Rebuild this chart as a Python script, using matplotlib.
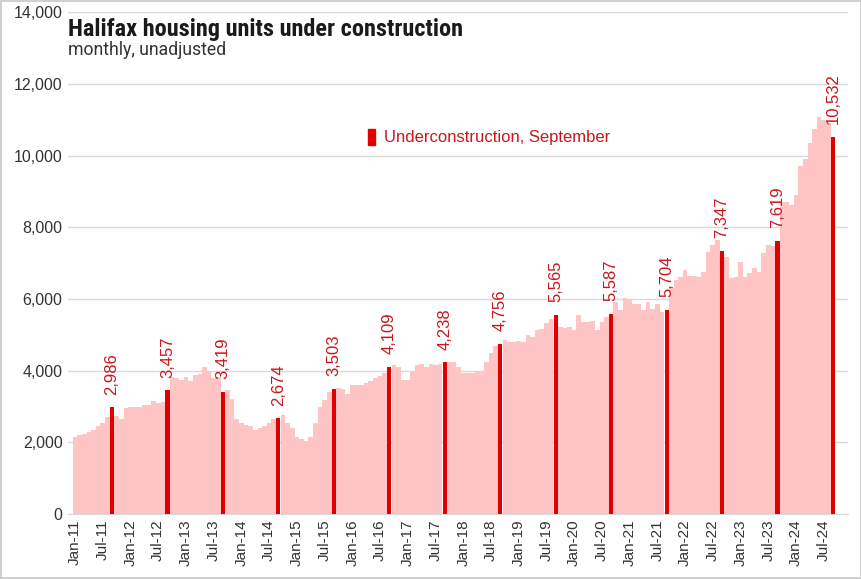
import pandas as pd
import matplotlib.pyplot as plt
from matplotlib.patches import Patch

# monthly units under construction, Jan-2011 .. Sep-2024
y2011 = [2150, 2200, 2230, 2280, 2350, 2450, 2550, 2700, 2986, 2750, 2650, 2950]
y2012 = [3000, 3000, 3000, 3050, 3050, 3150, 3100, 3120, 3457, 3820, 3800, 3740]
y2013 = [3820, 3700, 3880, 3910, 4100, 3960, 3810, 3820, 3419, 3460, 3200, 2650]
y2014 = [2550, 2500, 2450, 2350, 2400, 2450, 2550, 2650, 2674, 2760, 2550, 2400]
y2015 = [2150, 2100, 2050, 2150, 2550, 3000, 3180, 3400, 3503, 3510, 3480, 3350]
y2016 = [3600, 3600, 3600, 3650, 3720, 3800, 3850, 3950, 4109, 4150, 4100, 3750]
y2017 = [3750, 4000, 4150, 4180, 4100, 4200, 4150, 4200, 4238, 4250, 4250, 4100]
y2018 = [3950, 3950, 3950, 4000, 4000, 4250, 4500, 4700, 4756, 4850, 4800, 4800]
y2019 = [4820, 4800, 5000, 4950, 5130, 5150, 5330, 5450, 5565, 5220, 5180, 5220]
y2020 = [5130, 5550, 5360, 5360, 5390, 5130, 5360, 5500, 5587, 5910, 5690, 6020]
y2021 = [6000, 5870, 5870, 5690, 5910, 5730, 5870, 5650, 5704, 6300, 6520, 6610]
y2022 = [6800, 6650, 6650, 6600, 6750, 7300, 7500, 7650, 7347, 7170, 6580, 6610]
y2023 = [7030, 6610, 6720, 6860, 6750, 7280, 7500, 7470, 7619, 8700, 8700, 8620]
y2024 = [8900, 9700, 9900, 10350, 10750, 11080, 11000, 10900, 10532]

units = y2011 + y2012 + y2013 + y2014 + y2015 + y2016 + y2017 + y2018 + \
    y2019 + y2020 + y2021 + y2022 + y2023 + y2024
months = pd.date_range("2011-01-01", periods=len(units), freq="MS")
month_labels = [m.strftime("%b-%y") for m in months]

pink = "#ffc4c4"
red = "#e00000"
lab_col = "#c8171e"

plt.rcParams['font.family'] = ['Liberation Sans Narrow', 'Liberation Sans', 'DejaVu Sans']

fig = plt.figure(figsize=(8.62, 5.79), dpi=100)
fig.patch.set_edgecolor("#d0d0d0")
fig.patch.set_linewidth(1.5)
ax = fig.add_axes([0.079, 0.112, 0.905, 0.867])

x = list(range(len(units)))
sep_x = [i for i in x if months[i].month == 9]
sep_v = [units[i] for i in sep_x]
other_x = [i for i in x if months[i].month != 9]
other_v = [units[i] for i in other_x]

ax.bar(other_x, other_v, width=1.0, color=pink, zorder=2)
ax.bar(sep_x, sep_v, width=0.9, color=red, zorder=3)

for xi, v in zip(sep_x, sep_v):
    ax.annotate(f"{v:,}", (xi, v), xytext=(0, 9), textcoords="offset points",
                rotation=90, ha="center", va="bottom", fontsize=12, color=lab_col)

ax.set_xlim(-1.5, 167.3)
ax.set_ylim(0, 14000)
ax.set_yticks(range(0, 14001, 2000))
ax.set_yticklabels([f"{t:,}" for t in range(0, 14001, 2000)], fontsize=11.5, color="#333333")
tick_pos = [i for i in x if months[i].month in (1, 7)]
ax.set_xticks(tick_pos)
ax.set_xticklabels([month_labels[i] for i in tick_pos], rotation=90, fontsize=11, color="#333333")
ax.tick_params(length=0, pad=4)
ax.grid(axis="y", color="#d9d9d9", linewidth=1, zorder=0)
for s in ["top", "right", "left"]:
    ax.spines[s].set_visible(False)
ax.spines["bottom"].set_color("#d9d9d9")

leg = ax.legend(handles=[Patch(color=red, label="Underconstruction, September")],
                loc="center left", bbox_to_anchor=(0.365, 0.751), frameon=False,
                handlelength=0.45, handleheight=1.1, handletextpad=0.5, fontsize=12,
                labelcolor=lab_col)

fig.text(0.079, 0.938, "Halifax housing units under construction", fontsize=17.5,
         fontweight="bold", color="#1a1a1a", family=["Roboto Condensed", "Roboto", "DejaVu Sans"])
fig.text(0.079, 0.905, "monthly, unadjusted", fontsize=12.7, color="#333333",
         family=["Roboto", "DejaVu Sans"])

fig.savefig("out.png", dpi=100)
